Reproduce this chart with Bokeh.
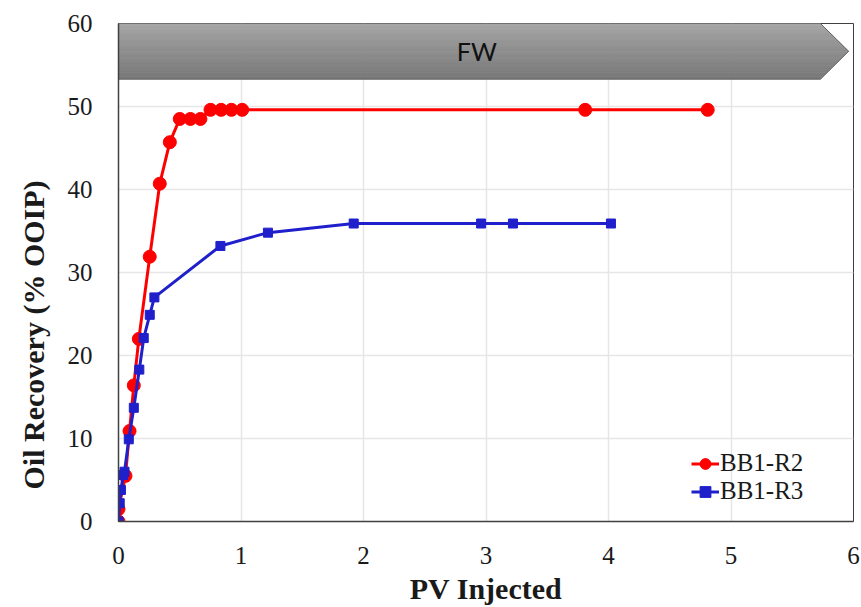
import numpy as np
from bokeh.plotting import figure
from bokeh.models import Range1d, Legend, LegendItem, Label, Title
from bokeh.embed import file_html
from bokeh.resources import INLINE

# ---- data ----
r2_pv = [0.0, 0.0, 0.057, 0.09, 0.125, 0.166, 0.255, 0.337, 0.419, 0.50, 0.587, 0.669,
         0.751, 0.838, 0.922, 1.01, 3.81, 4.81]
r2_rec = [0.0, 1.5, 5.5, 10.9, 16.4, 22.0, 31.9, 40.7, 45.7, 48.5, 48.5, 48.5,
          49.6, 49.6, 49.6, 49.6, 49.6, 49.6]
r3_pv = [0.0, 0.01, 0.02, 0.038, 0.049, 0.084, 0.125, 0.17, 0.206, 0.255, 0.293,
         0.832, 1.22, 1.92, 2.96, 3.22, 4.02]
r3_rec = [0.0, 2.2, 3.8, 5.6, 6.0, 9.9, 13.7, 18.3, 22.1, 24.9, 27.0,
          33.2, 34.8, 35.9, 35.9, 35.9, 35.9]
series_names = ["BB1-R2", "BB1-R3"]
x_ticks = [0, 1, 2, 3, 4, 5, 6]
y_ticks = [0, 10, 20, 30, 40, 50, 60]
stage_label = "FW"
x_title = "PV Injected"
y_title = "Oil Recovery (% OOIP)"

p = figure(width=861, height=607, output_backend="svg", toolbar_location=None,
           x_range=Range1d(0, 6), y_range=Range1d(0, 60),
           min_border_left=118, min_border_right=8, min_border_top=23, min_border_bottom=85)
p.background_fill_color = "white"
p.border_fill_color = "white"
p.outline_line_color = "#404040"
p.outline_line_width = 1

# grid
p.xgrid.ticker = x_ticks
p.ygrid.ticker = y_ticks
p.xgrid.grid_line_color = "#e6e6e6"
p.ygrid.grid_line_color = "#e6e6e6"
p.xgrid.grid_line_width = 1.5
p.ygrid.grid_line_width = 1.5

# axes
for ax in (p.xaxis[0], p.yaxis[0]):
    ax.axis_line_color = "#404040"
    ax.axis_line_width = 1.5
    ax.major_tick_line_color = None
    ax.minor_tick_line_color = None
    ax.major_label_text_font = "Liberation Serif"
    ax.major_label_text_font_size = "25px"
    ax.major_label_text_color = "#1a1a1a"
    ax.axis_label_text_font = "Liberation Serif"
    ax.axis_label_text_font_style = "bold"
    ax.axis_label_text_font_size = "30px"
    ax.axis_label_text_color = "#1a1a1a"
p.xaxis.ticker = x_ticks
p.yaxis.ticker = y_ticks
p.xaxis.axis_label = x_title
p.xaxis.major_label_standoff = 19
p.yaxis.major_label_standoff = 20
p.xaxis.axis_label_standoff = 5

# y title as a side title (sits below the frame's centre in the reference)
p.add_layout(Title(text=y_title, align="left", offset=32, standoff=29,
                   text_font="Liberation Serif", text_font_style="bold",
                   text_font_size="30px", text_color="#1a1a1a"), "left")

# stage arrow banner (gradient via strips)
x0, xr, xt = 0.0, 5.73, 5.96
ybot, ytop = 53.3, 60.0
ymid = (ybot + ytop) / 2
half = (ytop - ybot) / 2
n = 24
edges = np.linspace(ytop, ybot, n + 1)
c_top = np.array([0xa6, 0xa6, 0xa6])
c_bot = np.array([0x78, 0x78, 0x78])

def right_x(y):
    return xr + (xt - xr) * (1 - abs(y - ymid) / half)

xs_list, ys_list, cols = [], [], []
for i in range(n):
    ya, yb = edges[i], edges[i + 1]
    px = [x0, right_x(ya)]
    py = [ya, ya]
    if yb < ymid < ya:
        px.append(xt)
        py.append(ymid)
    px += [right_x(yb), x0]
    py += [yb, yb]
    xs_list.append(px)
    ys_list.append(py)
    t = (i + 0.5) / n
    c = (c_top * (1 - t) + c_bot * t).astype(int)
    cols.append("#%02x%02x%02x" % tuple(c))
p.patches(xs_list, ys_list, fill_color=cols, line_color=cols, line_width=0.8)
p.patch([x0, xr, xt, xr, x0], [ytop, ytop, ymid, ybot, ybot], fill_color=None,
        line_color="#6a6a6a", line_width=1)
p.add_layout(Label(x=(x0 + xr) / 2 + 0.06, y=ymid, text=stage_label, text_font="Lato",
                   text_font_size="25px", text_color="#111111",
                   text_align="center", text_baseline="middle"))

# series
red = "#ff0000"
blue = "#1f1fcc"
l1 = p.line(r2_pv, r2_rec, line_color=red, line_width=3)
m1 = p.scatter(r2_pv, r2_rec, marker="circle", size=13, fill_color=red, line_color=red)
l2 = p.line(r3_pv, r3_rec, line_color=blue, line_width=3)
m2 = p.scatter(r3_pv, r3_rec, marker="square", size=9, fill_color=blue, line_color=blue)

legend = Legend(items=[LegendItem(label=series_names[0], renderers=[l1, m1]),
                       LegendItem(label=series_names[1], renderers=[l2, m2])],
                location=(573, 16), padding=0, margin=0, spacing=0,
                glyph_width=28, glyph_height=27, label_height=27, label_standoff=1,
                label_text_font="Liberation Serif", label_text_font_size="25px",
                label_text_color="#1a1a1a", border_line_color=None,
                background_fill_alpha=0)
p.add_layout(legend)

open("out.html", "w").write(file_html(p, INLINE))
